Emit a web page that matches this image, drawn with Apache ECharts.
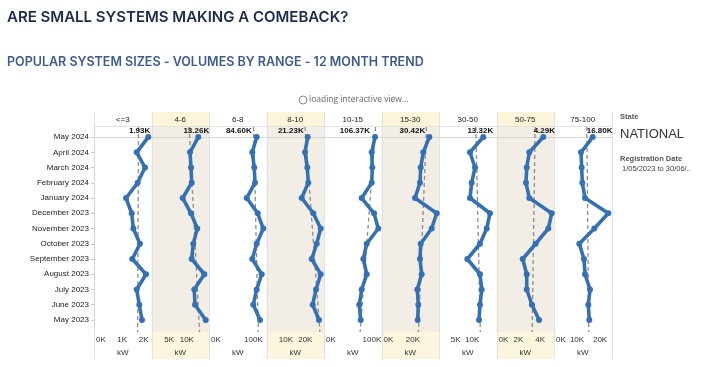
<!DOCTYPE html>
<html><head><meta charset="utf-8">
<script src="https://cdn.jsdelivr.net/npm/echarts@6/dist/echarts.min.js"></script>
<style>html,body{margin:0;padding:0;background:#fff}#c{width:705px;height:367px}</style>
</head><body><div id="c"></div>
<script>
// ---------- data ----------
const months = ['May 2024','April 2024','March 2024','February 2024','January 2024','December 2023','November 2023','October 2023','September 2023','August 2023','July 2023','June 2023','May 2023'];
const ranges = ['<=3','4-6','6-8','8-10','10-15','15-30','30-50','50-75','75-100'];
const kw_le3   = [1930,1518,1813,1553,1138,1340,1397,1635,1362,1849,1518,1610,1706];
const kw_4_6   = [13260,10910,11190,11390,8840,11190,12970,11840,11390,14960,12120,12320,15350];
const kw_6_8   = [84600,76800,80300,81600,66900,86400,96300,84600,76800,93500,84600,78600,90500];
const kw_8_10  = [21230,19840,21020,21540,18140,24120,27930,25870,23290,27930,25510,23810,27050];
const kw_10_15 = [106370,99500,100700,99500,78600,104300,113200,89100,82000,89100,78600,73600,76500];
const kw_15_30 = [30420,26600,24950,24500,21320,35130,31950,24950,24500,25580,22780,23420,23040];
const kw_30_50 = [13320,9320,10820,9830,9320,15330,14340,12330,8510,12330,12840,12330,12030];
const kw_50_75 = [4290,3010,2770,2700,3010,5060,4750,3590,2400,2770,2770,3250,3900];
const kw_75_100= [16800,11720,12020,12290,13460,23570,17490,10980,13020,13460,15630,14890,15320];
const xTicks = [[0,1000,2000],[5000,10000],[0,100000],[10000,20000],[0,100000],[0,20000],[5000,10000],[0,2000,4000],[0,10000,20000]];
const latestLabels = ['1.93K','13.26K','84.60K','21.23K','106.37K','30.42K','13.32K','4.29K','16.80K'];
const series_values = [kw_le3,kw_4_6,kw_6_8,kw_8_10,kw_10_15,kw_15_30,kw_30_50,kw_50_75,kw_75_100];

// ---------- layout / style ----------
const axisMax = [2044,16290,102000,29630,119900,36600,17290,5270,24960];
const rightEdgeTick = [2000,null,100000,null,null,null,null,null,null];
const rightPad = [13,0,24,0,0,0,0,0,0];
const labelAlign = ['right','center','right','right','right','right','center','center','left'];
const labelDx = [2,-2,-5,-4,-5,-4,-3,1,-6];
const shaded = [false,true,false,true,false,true,false,true,false];
const L0 = 94, PW = 57.5, TOP = 127, H = 205, YMIN = -0.66, YMAX = 12.79;
const FONT = '"Liberation Sans", Arial, sans-serif';
const BLUE = '#3371b4';

function fmtK(v){ return (v/1000) + 'K'; }
function trend(vals){
  const n = vals.length; let mi = (n-1)/2, mv = vals.reduce((a,b)=>a+b,0)/n, num=0, den=0;
  vals.forEach((v,i)=>{ num += (i-mi)*(v-mv); den += (i-mi)*(i-mi); });
  const b = num/den, a = mv - b*mi;
  return [[a+b*YMIN, YMIN],[a+b*YMAX, YMAX]];
}

const grids=[], xAxes=[], yAxes=[], series=[], graphics=[];
const idx = months.map((m,i)=>i);

// backgrounds
ranges.forEach((r,i)=>{
  const x = L0 + i*PW;
  if (shaded[i]) {
    graphics.push({type:'rect', z:-10, shape:{x:x, y:112, width:PW, height:15}, style:{fill:'#fdf5da'}});
    graphics.push({type:'rect', z:-10, shape:{x:x, y:TOP, width:PW, height:H}, style:{fill:'#f3eee5'}});
    graphics.push({type:'rect', z:-10, shape:{x:x, y:TOP+H, width:PW, height:27}, style:{fill:'#fdf6de'}});
  }
  graphics.push({type:'text', z:5, style:{text:r, x:x+PW/2, y:119.5, textAlign:'center', textVerticalAlign:'middle', fontSize:8, fontFamily:FONT, fill:'#222'}});
});
for (let i=0;i<=9;i++){
  const x = Math.round(L0 + i*PW)+0.5;
  graphics.push({type:'line', z:-5, shape:{x1:x, y1:112, x2:x, y2:359}, style:{stroke:'#e2e2e2', lineWidth:1}});
}
graphics.push({type:'line', z:-5, shape:{x1:L0, y1:126.5, x2:L0+9*PW, y2:126.5}, style:{stroke:'#e2e2e2', lineWidth:1}});

ranges.forEach((r,i)=>{
  grids.push({left:L0+i*PW, top:TOP, width:PW, height:H});
  const rich = {l:{padding:[0,0,0,14], fontSize:8, fontFamily:FONT, color:'#333'}, r:{padding:[0,rightPad[i],0,0], fontSize:8, fontFamily:FONT, color:'#333'}};
  xAxes.push({
    type:'value', gridIndex:i, min:0, max:axisMax[i], position:'bottom',
    splitLine:{show:false}, axisTick:{show:false},
    axisLine:{show:true, lineStyle:{color:'#d6d6d6'}},
    axisLabel:{customValues:xTicks[i], fontSize:8, fontFamily:FONT, color:'#333', margin:4, rich:rich,
      formatter:(v)=>{ const t=fmtK(v); if(v===0) return '{l|'+t+'}'; if(v===rightEdgeTick[i]) return '{r|'+t+'}'; return t; }},
    name:'kW', nameLocation:'middle', nameGap:15,
    nameTextStyle:{fontSize:8, fontFamily:FONT, color:'#333'}
  });
  if (i===0) {
    yAxes.push({type:'value', gridIndex:i, inverse:true, min:YMIN, max:YMAX,
      splitLine:{show:false},
      axisLine:{show:true, lineStyle:{color:'#d6d6d6'}},
      axisTick:{show:true, customValues:idx, length:3, lineStyle:{color:'#c8c8c8'}},
      axisLabel:{customValues:idx, formatter:(v)=>months[Math.round(v)], fontSize:8, fontFamily:FONT, color:'#222', margin:5}
    });
  } else {
    yAxes.push({type:'value', gridIndex:i, inverse:true, min:YMIN, max:YMAX, show:false});
  }
  series.push({
    type:'line', xAxisIndex:i, yAxisIndex:i, data:trend(series_values[i]), symbol:'none', silent:true, z:1,
    lineStyle:{color:'#8c8c8c', width:1.3, type:[4,3]}
  });
  series.push({
    type:'line', xAxisIndex:i, yAxisIndex:i, z:3,
    data: series_values[i].map((v,k)=> k===0 ? {value:[v,k], label:{show:true, position:'top', distance:0, align:labelAlign[i], offset:[labelDx[i],1], formatter:latestLabels[i], fontSize:8, fontWeight:'bold', fontFamily:FONT, color:'#111'}} : [v,k]),
    symbol:'circle', symbolSize:6, itemStyle:{color:BLUE}, lineStyle:{color:BLUE, width:3.6},
    label:{show:false}
  });
});

// titles and side panel
graphics.push({type:'text', style:{text:'ARE SMALL SYSTEMS MAKING A COMEBACK?', x:7, y:17, textVerticalAlign:'middle', fontSize:15, fontWeight:600, fontFamily:'Inter, sans-serif', fill:'#1c2a4c'}});
graphics.push({type:'text', style:{text:'POPULAR SYSTEM SIZES - VOLUMES BY RANGE - 12 MONTH TREND', x:7, y:62, textVerticalAlign:'middle', fontSize:12.5, fontWeight:600, fontFamily:'Inter, sans-serif', fill:'#3f5b8e'}});
graphics.push({type:'circle', shape:{cx:303, cy:100, r:4}, style:{fill:'none', stroke:'#888', lineWidth:1}});
graphics.push({type:'text', style:{text:'loading interactive view...', x:309, y:100, textVerticalAlign:'middle', fontSize:8.5, fontFamily:'"Open Sans", sans-serif', fill:'#666'}});
graphics.push({type:'text', style:{text:'State', x:620, y:117, textVerticalAlign:'middle', fontSize:7.5, fontWeight:'bold', fontFamily:FONT, fill:'#555'}});
graphics.push({type:'text', style:{text:'NATIONAL', x:620, y:134, textVerticalAlign:'middle', fontSize:13, fontFamily:FONT, fill:'#333'}});
graphics.push({type:'text', style:{text:'Registration Date', x:620, y:159, textVerticalAlign:'middle', fontSize:7.5, fontWeight:'bold', fontFamily:FONT, fill:'#555'}});
graphics.push({type:'text', style:{text:'1/05/2023 to 30/06/..', x:622, y:168.5, textVerticalAlign:'middle', fontSize:7.5, fontFamily:FONT, fill:'#444'}});

const chart = echarts.init(document.getElementById('c'), null, {renderer:'canvas'});
chart.setOption({animation:false, backgroundColor:'#fff', grid:grids, xAxis:xAxes, yAxis:yAxes, series:series, graphic:graphics});
</script>
</body></html>
